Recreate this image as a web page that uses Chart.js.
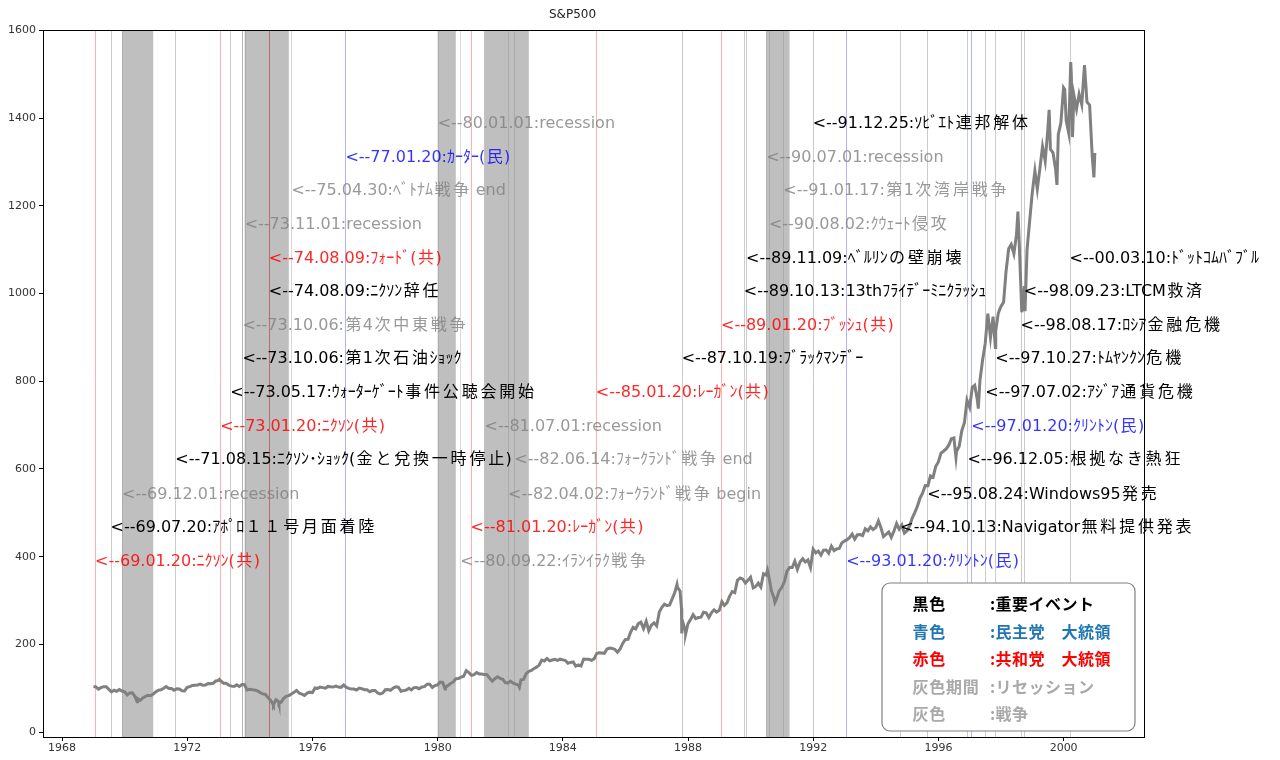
<!DOCTYPE html>
<html>
<head>
<meta charset="utf-8">
<title>S&P500</title>
<script src="https://cdn.jsdelivr.net/npm/chart.js@4.4.1/dist/chart.umd.min.js"></script>
<style>
  html, body { margin: 0; padding: 0; background: #fff; }
</style>
</head>
<body>
<canvas id="myChart" width="1280" height="760"></canvas>
<script>
// month-end closes, Jan 1969 .. Dec 2000 (12 per row)
var monthlyClose = [
  103.0, 98.1, 101.5, 103.7, 103.5, 97.7, 91.8, 95.5, 93.1, 97.2, 93.8, 92.1,
  85.0, 89.5, 89.6, 81.5, 76.6, 72.7, 78.1, 81.5, 84.2, 83.3, 87.2, 92.2,
  95.9, 96.8, 100.3, 104.0, 99.6, 99.7, 95.6, 99.0, 98.3, 94.2, 94.0, 102.1,
  103.9, 106.6, 107.2, 107.7, 109.5, 107.1, 107.4, 111.1, 110.6, 111.6, 116.7, 118.1,
  116.0, 111.7, 111.5, 107.0, 105.0, 104.3, 108.2, 104.3, 108.4, 108.3, 96.0, 97.6,
  96.6, 96.2, 94.0, 90.3, 87.3, 86.0, 79.3, 72.2, 63.5, 73.9, 70.0, 68.6,
  77.0, 81.6, 83.4, 87.3, 91.2, 95.2, 88.8, 86.9, 83.9, 89.0, 91.2, 90.2,
  100.9, 99.7, 102.8, 101.6, 100.2, 104.3, 103.4, 102.9, 105.2, 102.9, 102.1, 107.5,
  102.0, 99.8, 98.4, 98.4, 96.1, 100.5, 98.9, 96.8, 96.5, 92.3, 94.8, 95.1,
  89.3, 87.0, 89.2, 96.8, 97.2, 95.5, 100.7, 103.3, 102.5, 93.2, 94.7, 96.1,
  99.9, 96.3, 101.6, 101.8, 99.1, 102.9, 103.8, 109.3, 109.3, 101.8, 106.2, 107.9,
  114.2, 113.7, 102.1, 106.3, 111.2, 114.2, 121.7, 122.4, 125.5, 127.5, 140.5, 135.8,
  129.6, 131.3, 136.0, 132.8, 132.6, 131.2, 130.9, 122.8, 116.2, 121.9, 126.4, 122.6,
  120.4, 113.1, 112.0, 116.4, 111.9, 109.6, 107.1, 119.5, 120.4, 133.7, 138.5, 140.6,
  145.3, 148.1, 153.0, 164.4, 162.4, 168.1, 162.6, 164.4, 166.1, 163.6, 166.4, 164.9,
  163.4, 157.1, 159.2, 160.1, 150.6, 153.2, 150.7, 166.7, 166.1, 166.1, 163.6, 167.2,
  179.6, 181.2, 180.7, 179.8, 189.6, 191.9, 190.9, 188.6, 182.1, 189.8, 202.2, 211.3,
  211.8, 226.9, 238.9, 235.5, 247.4, 250.8, 236.1, 252.9, 231.3, 244.0, 249.2, 242.2,
  274.1, 284.2, 291.7, 288.4, 290.1, 304.0, 318.7, 329.8, 321.8, 251.8, 230.3, 247.1,
  257.1, 267.8, 258.9, 261.3, 262.2, 273.5, 272.0, 261.5, 271.9, 279.0, 273.7, 277.7,
  297.5, 288.9, 294.9, 309.6, 320.5, 318.0, 346.1, 351.5, 349.2, 340.4, 346.0, 353.4,
  329.1, 331.9, 339.9, 330.8, 361.2, 358.0, 356.2, 322.6, 306.1, 304.0, 322.2, 330.2,
  343.9, 367.1, 375.2, 375.4, 389.8, 371.2, 387.8, 395.4, 387.9, 392.5, 375.2, 417.1,
  408.8, 412.7, 403.7, 415.0, 415.4, 408.1, 424.2, 414.0, 417.8, 418.7, 431.4, 435.7,
  438.8, 443.4, 451.7, 440.2, 450.2, 450.5, 448.1, 463.6, 458.9, 467.8, 461.8, 466.5,
  481.6, 467.1, 445.8, 450.9, 456.5, 444.3, 458.3, 475.5, 462.7, 472.4, 453.7, 459.3,
  470.4, 487.4, 500.7, 514.7, 533.4, 544.8, 562.1, 561.9, 584.4, 581.5, 605.4, 615.9,
  636.0, 640.4, 645.5, 654.2, 669.1, 670.6, 640.0, 652.0, 687.3, 705.3, 757.0, 740.7,
  786.2, 790.8, 757.1, 801.3, 848.3, 885.1, 954.3, 899.5, 947.3, 914.6, 955.4, 970.4,
  980.3, 1049.3, 1101.8, 1111.8, 1090.8, 1133.8, 1120.7, 957.3, 1017.0, 1098.7, 1163.6, 1229.2,
  1279.6, 1238.3, 1286.4, 1335.2, 1301.8, 1372.7, 1328.7, 1320.4, 1282.7, 1362.9, 1388.9, 1469.3,
  1394.5, 1366.4, 1498.6, 1452.4, 1420.6, 1454.6, 1430.8, 1517.7, 1436.5, 1429.4, 1315.0, 1320.3
];
var firstYear = 1969;

// intra-month highs and lows seen on the line
var extraDates = ['69.01.02', '70.05.26', '73.01.11', '74.10.03', '74.12.06', '80.03.27',
  '82.08.12', '87.08.25', '87.10.16', '87.10.19', '87.10.21', '87.12.04', '90.07.16',
  '90.10.11', '96.07.24', '97.04.11', '97.10.27', '98.07.17', '98.10.08', '99.07.16',
  '99.10.15', '00.01.14', '00.03.24', '00.04.14', '00.09.01', '00.12.20'];
var extraValues = [103.9, 69.3, 120.2, 62.3, 65.0, 98.2,
  102.4, 336.8, 282.7, 224.8, 258.4, 223.9, 369.0,
  295.5, 626.7, 737.7, 877.0, 1186.8, 959.4, 1418.8,
  1247.4, 1465.2, 1527.5, 1356.6, 1520.8, 1264.7];

var recessionStart = ['69.12.01', '73.11.01', '80.01.01', '81.07.01', '90.07.01'];
var recessionEnd = ['70.11.30', '75.03.31', '80.07.31', '82.11.30', '91.03.31'];

var eventDates = ['69.01.20', '69.07.20', '69.12.01', '71.08.15', '73.01.20', '73.05.17', '73.10.06',
  '73.10.06', '74.08.09', '74.08.09', '73.11.01', '75.04.30', '77.01.20', '80.01.01',
  '80.09.22', '81.01.20', '82.04.02', '82.06.14', '81.07.01', '85.01.20', '87.10.19',
  '89.01.20', '89.10.13', '89.11.09', '90.08.02', '91.01.17', '90.07.01', '91.12.25',
  '93.01.20', '94.10.13', '95.08.24', '96.12.05', '97.01.20', '97.07.02', '97.10.27',
  '98.08.17', '98.09.23', '00.03.10'];
var eventTexts = ['ﾆｸｿﾝ(共)', 'ｱﾎﾟﾛ１１号月面着陸', 'recession', 'ﾆｸｿﾝ･ｼｮｯｸ(金と兌換一時停止)', 'ﾆｸｿﾝ(共)',
  'ｳｫｰﾀｰｹﾞｰﾄ事件公聴会開始', '第1次石油ｼｮｯｸ', '第4次中東戦争', 'ﾆｸｿﾝ辞任', 'ﾌｫｰﾄﾞ(共)', 'recession',
  'ﾍﾞﾄﾅﾑ戦争 end', 'ｶｰﾀｰ(民)', 'recession', 'ｲﾗﾝｲﾗｸ戦争', 'ﾚｰｶﾞﾝ(共)', 'ﾌｫｰｸﾗﾝﾄﾞ戦争 begin',
  'ﾌｫｰｸﾗﾝﾄﾞ戦争 end', 'recession', 'ﾚｰｶﾞﾝ(共)', 'ﾌﾞﾗｯｸﾏﾝﾃﾞｰ', 'ﾌﾞｯｼｭ(共)', '13thﾌﾗｲﾃﾞｰﾐﾆｸﾗｯｼｭ',
  'ﾍﾞﾙﾘﾝの壁崩壊', 'ｸｳｪｰﾄ侵攻', '第1次湾岸戦争', 'recession', 'ｿﾋﾞｴﾄ連邦解体', 'ｸﾘﾝﾄﾝ(民)',
  'Navigator無料提供発表', 'Windows95発売', '根拠なき熱狂', 'ｸﾘﾝﾄﾝ(民)', 'ｱｼﾞｱ通貨危機',
  'ﾄﾑﾔﾝｸﾝ危機', 'ﾛｼｱ金融危機', 'LTCM救済', 'ﾄﾞｯﾄｺﾑﾊﾞﾌﾞﾙ'];
var eventKinds = ['red', 'black', 'gray', 'black', 'red', 'black', 'black',
  'gray', 'black', 'red', 'gray', 'gray', 'blue', 'gray',
  'gray', 'red', 'gray', 'gray', 'gray', 'red', 'black',
  'red', 'black', 'black', 'gray', 'gray', 'gray', 'black',
  'blue', 'black', 'black', 'black', 'blue', 'black', 'black',
  'black', 'black', 'black'];
// height (in index points) where each label sits
var eventY = [388, 465, 542, 620, 697, 773, 850,
  927, 1003, 1080, 1157, 1233, 1310, 1387,
  388, 465, 542, 620, 697, 773, 850,
  927, 1003, 1080, 1157, 1233, 1310, 1387,
  388, 465, 542, 620, 697, 773, 850,
  927, 1003, 1080];

var xTicks = [1968, 1972, 1976, 1980, 1984, 1988, 1992, 1996, 2000];
var yTicks = [0, 200, 400, 600, 800, 1000, 1200, 1400, 1600];

var legendKeys = ['黒色', '青色', '赤色', '灰色期間', '灰色'];
var legendTexts = [':重要イベント', ':民主党　大統領', ':共和党　大統領', ':リセッション', ':戦争'];
var legendColors = ['#000000', '#1f77b4', '#ff0000', '#a9a9a9', '#a9a9a9'];

var lineColors = { red: 'rgba(255,0,0,0.3)', blue: 'rgba(0,0,255,0.3)', black: 'rgba(0,0,0,0.2)', gray: 'rgba(128,128,128,0.3)' };
var textColors = { red: 'rgba(255,0,0,0.85)', blue: 'rgba(0,0,255,0.8)', black: '#000000', gray: 'rgba(128,128,128,0.8)' };

// "yy.mm.dd" -> decimal year
function toYear(s) {
  var p = s.split('.');
  var y = parseInt(p[0], 10);
  y = y < 50 ? 2000 + y : 1900 + y;
  var t = Date.UTC(y, parseInt(p[1], 10) - 1, parseInt(p[2], 10));
  var t0 = Date.UTC(y, 0, 1), t1 = Date.UTC(y + 1, 0, 1);
  return y + (t - t0) / (t1 - t0);
}
function monthEnd(i) {
  var y = firstYear + Math.floor(i / 12), m = i % 12;
  var t = Date.UTC(y, m + 1, 0);
  return y + (t - Date.UTC(y, 0, 1)) / (Date.UTC(y + 1, 0, 1) - Date.UTC(y, 0, 1));
}

var points = [];
for (var i = 0; i < monthlyClose.length; i++) {
  points.push({ x: monthEnd(i), y: monthlyClose[i] });
}
for (var j = 0; j < extraDates.length; j++) {
  points.push({ x: toYear(extraDates[j]), y: extraValues[j] });
}
points.sort(function(a, b) { return a.x - b.x; });

var labelFont = '16px "DejaVu Sans", "Noto Sans CJK JP", sans-serif';
var legendFont = 'bold 16px "Noto Sans CJK JP", "DejaVu Sans", sans-serif';

// full-width glyphs sit wider apart in the original
function isWide(c) {
  return c >= 0x2E80 && !(c >= 0xFF61 && c <= 0xFF9F);
}
function drawLabel(ctx, text, x, y, gap) {
  var run = '';
  for (var i = 0; i < text.length; i++) {
    var ch = text[i];
    if (isWide(ch.charCodeAt(0))) {
      if (run) { ctx.fillText(run, x, y); x += ctx.measureText(run).width; run = ''; }
      x += gap / 2;
      ctx.fillText(ch, x, y);
      x += ctx.measureText(ch).width + gap / 2;
    } else {
      run += ch;
    }
  }
  if (run) ctx.fillText(run, x, y);
}

var eventPlugin = {
  id: 'events',
  beforeDatasetsDraw: function(chart) {
    var ctx = chart.ctx, area = chart.chartArea, xs = chart.scales.x;
    ctx.save();
    //recession periods
    ctx.fillStyle = 'rgba(128,128,128,0.5)';
    for (var i = 0; i < recessionStart.length; i++) {
      var x0 = xs.getPixelForValue(toYear(recessionStart[i]));
      var x1 = xs.getPixelForValue(toYear(recessionEnd[i]));
      ctx.fillRect(x0, area.top, x1 - x0, area.bottom - area.top);
    }
    //event lines
    ctx.lineWidth = 1;
    for (var k = 0; k < eventDates.length; k++) {
      var x = Math.round(xs.getPixelForValue(toYear(eventDates[k]))) + 0.5;
      ctx.strokeStyle = lineColors[eventKinds[k]];
      ctx.beginPath();
      ctx.moveTo(x, area.top);
      ctx.lineTo(x, area.bottom);
      ctx.stroke();
    }
    ctx.restore();
  },
  afterDatasetsDraw: function(chart) {
    var ctx = chart.ctx, area = chart.chartArea, xs = chart.scales.x, ys = chart.scales.y;
    ctx.save();
    //event labels
    ctx.font = labelFont;
    ctx.textAlign = 'left';
    ctx.textBaseline = 'middle';
    for (var k = 0; k < eventDates.length; k++) {
      ctx.fillStyle = textColors[eventKinds[k]];
      drawLabel(ctx, '<--' + eventDates[k] + ':' + eventTexts[k],
        xs.getPixelForValue(toYear(eventDates[k])), ys.getPixelForValue(eventY[k]), 2.8);
    }
    //frame
    ctx.strokeStyle = '#000';
    ctx.lineWidth = 1;
    ctx.strokeRect(Math.round(area.left) + 0.5, Math.round(area.top) + 0.5,
      Math.round(area.right - area.left) - 1, Math.round(area.bottom - area.top));
    //legend box
    var w = 253, h = 148, r = 8;
    var bx = area.right - 10 - w, by = area.bottom - 6 - h;
    ctx.beginPath();
    ctx.moveTo(bx + r, by);
    ctx.arcTo(bx + w, by, bx + w, by + h, r);
    ctx.arcTo(bx + w, by + h, bx, by + h, r);
    ctx.arcTo(bx, by + h, bx, by, r);
    ctx.arcTo(bx, by, bx + w, by, r);
    ctx.closePath();
    ctx.fillStyle = '#ffffff';
    ctx.fill();
    ctx.strokeStyle = '#808080';
    ctx.lineWidth = 1.2;
    ctx.stroke();
    ctx.font = legendFont;
    for (var n = 0; n < legendKeys.length; n++) {
      var ty = by + 21 + n * 27.5;
      ctx.fillStyle = legendColors[n];
      drawLabel(ctx, legendKeys[n], bx + 30, ty, 0.8);
      drawLabel(ctx, legendTexts[n], bx + 108, ty, 0.5);
    }
    ctx.restore();
  }
};

var tickFont = { family: '"DejaVu Sans", sans-serif', size: 11 };

var ctx = document.getElementById('myChart').getContext('2d');
var myChart = new Chart(ctx, {
  type: 'line',
  data: {
    datasets: [{
      label: 'S&P500',
      data: points,
      borderColor: '#808080',
      borderWidth: 3,
      pointRadius: 0,
      tension: 0,
      fill: false
    }]
  },
  options: {
    responsive: false,
    animation: false,
    layout: { padding: { left: 0, right: 135, top: 0, bottom: 0 } },
    plugins: {
      legend: { display: false },
      tooltip: { enabled: false },
      title: {
        display: true,
        text: 'S&P500',
        color: '#222',
        font: { family: '"DejaVu Sans", sans-serif', size: 12, weight: 'normal' },
        padding: { top: 8, bottom: 7.6 }
      }
    },
    scales: {
      x: {
        type: 'linear',
        min: 1967.39,
        max: 2002.6,
        afterBuildTicks: function(s) { s.ticks = xTicks.map(function(v) { return { value: v }; }); },
        afterFit: function(s) { s.height = 23; },
        grid: { display: true, drawOnChartArea: false, drawTicks: true, tickLength: 4, color: '#000' },
        border: { display: false },
        ticks: { font: tickFont, color: '#333', padding: 1, maxRotation: 0, autoSkip: false,
          callback: function(v) { return String(v); } }
      },
      y: {
        min: -11,
        max: 1600.7,
        afterBuildTicks: function(s) { s.ticks = yTicks.map(function(v) { return { value: v }; }); },
        afterFit: function(s) { s.width = 43; },
        grid: { display: true, drawOnChartArea: false, drawTicks: true, tickLength: 4, color: '#000' },
        border: { display: false },
        ticks: { font: tickFont, color: '#333', padding: 3, autoSkip: false,
          callback: function(v) { return String(v); } }
      }
    }
  },
  plugins: [eventPlugin]
});
</script>
</body>
</html>
